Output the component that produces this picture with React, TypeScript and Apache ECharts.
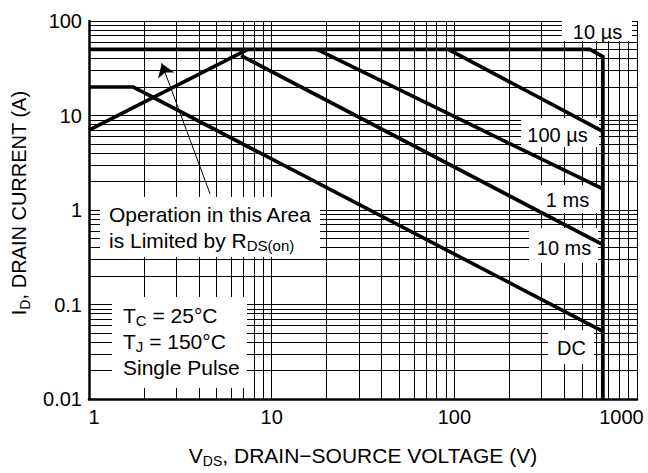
import React, { useEffect, useRef } from 'react';
import * as echarts from 'echarts';

const FONT = '"Liberation Sans", Arial, Helvetica, sans-serif';

// Axis tick labels
const xTickLabels = ['1', '10', '100', '1000'];
const yTickLabels = ['0.01', '0.1', '1', '10', '100'];

// Minor grid: multipliers within each decade
const gridMultipliers = [2, 3, 4, 5, 6, 7, 8, 9];
const xDecades = [1, 10, 100];
const yDecades = [0.01, 0.1, 1, 10];

// Safe operating area curves: [V_DS (V), I_D (A)]
const rdsOnLimit = [[1, 7.0], [7.4, 50]];
const curve10us = [[1, 50], [553, 50], [650, 42], [650, 0.01]];
const curve100us = [[92.7, 50], [650, 6.8]];
const curve1ms = [[17.7, 50], [650, 1.67]];
const curve10ms = [[6.8, 43], [650, 0.43]];
const curveDC = [[1, 20], [1.75, 20], [650, 0.052]];

// Annotation arrow (data coordinates)
const arrowFrom = [4.6, 1.48];
const arrowTo = [2.5, 35.6];

const curveLabels = ['10 µs', '100 µs', '1 ms', '10 ms', 'DC'];

function buildOption() {
  const xMinor: number[] = [];
  xDecades.forEach((d) => gridMultipliers.forEach((m) => xMinor.push(+(d * m).toPrecision(6))));
  const yMinor: number[] = [];
  yDecades.forEach((d) => gridMultipliers.forEach((m) => yMinor.push(+(d * m).toPrecision(6))));

  const curve = (name: string, data: number[][], width = 3.6) => ({
    type: 'line',
    name,
    data,
    showSymbol: false,
    symbol: 'none',
    silent: true,
    z: 10,
    lineStyle: { color: '#000', width, cap: 'butt', join: 'miter' },
    emphasis: { disabled: true },
  });

  const labelPos = [
    { x: 597.5, y: 32 },
    { x: 557.5, y: 135 },
    { x: 567.5, y: 200 },
    { x: 564, y: 248 },
    { x: 571.5, y: 347.5 },
  ];
  const boxes = [
    { x: 562, y: 8, w: 70, h: 33 },
    { x: 521, y: 118, w: 78, h: 29 },
    { x: 538, y: 185, w: 62, h: 28 },
    { x: 529, y: 228, w: 69, h: 35 },
    { x: 548, y: 330, w: 46, h: 34 },
    { x: 100, y: 197, w: 220, h: 60 },
    { x: 112, y: 297, w: 135, h: 91 },
  ];

  const subRich = {
    s: { fontSize: 15, lineHeight: 15, verticalAlign: 'bottom', fontFamily: FONT, fill: '#000' },
  };

  const graphic: any[] = [
    ...boxes.map((b) => ({
      type: 'rect',
      silent: true,
      z: 6,
      shape: { x: b.x, y: b.y, width: b.w, height: b.h },
      style: { fill: '#fff' },
    })),
    ...curveLabels.map((t, i) => ({
      type: 'text',
      silent: true,
      z: 7,
      x: labelPos[i].x,
      y: labelPos[i].y,
      style: {
        text: t,
        fill: '#000',
        fontSize: 20,
        fontFamily: FONT,
        align: 'center',
        verticalAlign: 'middle',
      },
    })),
    {
      type: 'text',
      silent: true,
      z: 7,
      x: 109,
      y: 201,
      style: {
        text: 'Operation in this Area\nis Limited by R{s|DS(on)}',
        fill: '#000',
        fontSize: 21,
        lineHeight: 26,
        fontFamily: FONT,
        align: 'left',
        verticalAlign: 'top',
        rich: subRich,
      },
    },
    {
      type: 'text',
      silent: true,
      z: 7,
      x: 123,
      y: 302,
      style: {
        text: 'T{s|C} = 25°C\nT{s|J} = 150°C\nSingle Pulse',
        fill: '#000',
        fontSize: 21,
        lineHeight: 26,
        fontFamily: FONT,
        align: 'left',
        verticalAlign: 'top',
        rich: subRich,
      },
    },
  ];

  const tickText = { fontSize: 20, fontFamily: FONT, color: '#000' };

  return {
    animation: false,
    backgroundColor: '#fff',
    grid: { left: 89, right: 11, top: 21, bottom: 68, containLabel: false },
    xAxis: {
      type: 'log',
      logBase: 10,
      min: 1,
      max: 1000,
      splitNumber: 3,
      name: '{m|V}{s|DS}{m|, DRAIN\u2212SOURCE VOLTAGE (V)}',
      nameLocation: 'middle',
      nameGap: 43,
      nameTextStyle: {
        color: '#000',
        fontSize: 21,
        fontFamily: FONT,
        rich: {
          m: { fontSize: 21, lineHeight: 26, verticalAlign: 'middle', fontFamily: FONT, color: '#000' },
          s: { fontSize: 14, lineHeight: 18, verticalAlign: 'bottom', fontFamily: FONT, color: '#000' },
        },
      },
      axisLine: { show: true, onZero: false, lineStyle: { color: '#000', width: 2.5 } },
      axisTick: { show: false },
      splitLine: { show: true, lineStyle: { color: '#000', width: 1 } },
      axisLabel: {
        margin: 8,
        ...tickText,
        formatter: (v: number) => {
          const i = Math.round(Math.log10(v));
          const t = xTickLabels[i] ?? '';
          if (i === 0) return `{first|${t}}`;
          if (i === xTickLabels.length - 1) return `{last|${t}}`;
          return `{n|${t}}`;
        },
        rich: {
          n: { ...tickText },
          first: { ...tickText, padding: [0, 0, 0, 10] },
          last: { ...tickText, padding: [0, 31, 0, 0] },
        },
      },
    },
    yAxis: {
      type: 'log',
      logBase: 10,
      min: 0.01,
      max: 100,
      splitNumber: 4,
      name: '{m|I}{s|D}{m|, DRAIN CURRENT (A)}',
      nameLocation: 'middle',
      nameGap: 53,
      nameTextStyle: {
        color: '#000',
        fontSize: 20,
        fontFamily: FONT,
        padding: [0, 0, 0, 14],
        rich: {
          m: { fontSize: 20, lineHeight: 26, verticalAlign: 'middle', fontFamily: FONT, color: '#000' },
          s: { fontSize: 14, lineHeight: 18, verticalAlign: 'bottom', fontFamily: FONT, color: '#000' },
        },
      },
      axisLine: { show: true, onZero: false, lineStyle: { color: '#000', width: 2.5 } },
      axisTick: { show: false },
      splitLine: { show: true, lineStyle: { color: '#000', width: 1 } },
      axisLabel: {
        margin: 7,
        ...tickText,
        formatter: (v: number) => yTickLabels[Math.round(Math.log10(v)) + 2] ?? '',
      },
    },
    graphic,
    series: [
      {
        type: 'line',
        name: 'grid',
        data: [],
        z: 1,
        silent: true,
        markLine: {
          z: 1,
          silent: true,
          animation: false,
          symbol: ['none', 'none'],
          label: { show: false },
          emphasis: { disabled: true },
          lineStyle: { color: '#000', width: 1, type: 'solid' },
          data: [
            ...xMinor.map((v) => ({ xAxis: v })),
            ...yMinor.map((v) => ({ yAxis: v })),
          ],
        },
      },
      {
        type: 'line',
        name: 'arrow',
        data: [],
        z: 9,
        silent: true,
        markLine: {
          z: 9,
          silent: true,
          animation: false,
          symbol: ['none', 'arrow'],
          symbolSize: 13,
          label: { show: false },
          emphasis: { disabled: true },
          lineStyle: { color: '#000', width: 1, type: 'solid' },
          data: [[{ coord: arrowFrom }, { coord: arrowTo }]],
        },
      },
      curve('RDS(on) limit', rdsOnLimit),
      curve('10 µs', curve10us, 3.8),
      curve('100 µs', curve100us),
      curve('1 ms', curve1ms),
      curve('10 ms', curve10ms),
      curve('DC', curveDC),
    ],
  };
}

export default function App() {
  const ref = useRef<HTMLDivElement>(null);
  useEffect(() => {
    if (!ref.current) return;
    const chart = echarts.init(ref.current, null, { renderer: 'svg' });
    chart.setOption(buildOption() as any);
    return () => chart.dispose();
  }, []);
  return (
    <div
      ref={ref}
      style={{ position: 'absolute', left: 0, top: 0, width: 648, height: 473, background: '#fff' }}
    />
  );
}
